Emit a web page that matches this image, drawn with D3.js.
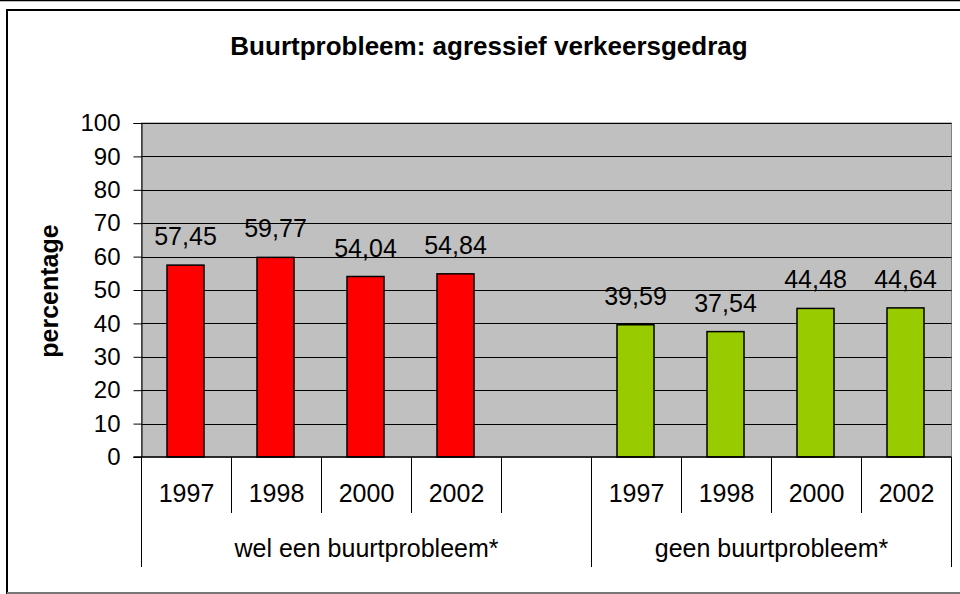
<!DOCTYPE html>
<html>
<head>
<meta charset="utf-8">
<script src="https://cdn.jsdelivr.net/npm/d3@7"></script>
<style>
  body { margin: 0; background: #fff; }
  text { font-family: "Liberation Sans", Arial, sans-serif; fill: #000; }
</style>
</head>
<body>
<div class="chart"></div>
<script>
// chart data
var title = "Buurtprobleem: agressief verkeersgedrag";
var yLabel = "percentage";
var years = ["1997", "1998", "2000", "2002"];
var groups = ["wel een buurtprobleem*", "geen buurtprobleem*"];
var welValues = [57.45, 59.77, 54.04, 54.84];
var geenValues = [39.59, 37.54, 44.48, 44.64];
var yTickValues = [0, 10, 20, 30, 40, 50, 60, 70, 80, 90, 100];
var groupColors = ["#ff0000", "#99cc00"];

var W = 960, H = 594;

var svg = d3.select(".chart")
  .append("svg")
  .attr("width", W)
  .attr("height", H);

// outer frame
svg.append("line")
  .attr("x1", 0).attr("x2", W).attr("y1", 0.5).attr("y2", 0.5)
  .style("stroke", "#000").style("stroke-width", 1.5);
svg.append("path")
  .attr("d", "M965,10 H7 V593 H965")
  .style("fill", "none").style("stroke", "#000").style("stroke-width", 2);
svg.append("line")
  .attr("x1", 7).attr("x2", W).attr("y1", 593).attr("y2", 593)
  .style("stroke", "#777").style("stroke-width", 2);

// slots: 4 years + one empty slot for the first group, 4 years for the second
var slots = [];
years.forEach(function(y, i) { slots.push({g: 0, year: y, value: welValues[i]}); });
slots.push({g: 0, year: "", value: null});
years.forEach(function(y, i) { slots.push({g: 1, year: y, value: geenValues[i]}); });

var plotL = 141.5, plotR = 951.5, plotT = 123, plotB = 457;

var xScale = d3.scaleBand()
  .domain(d3.range(slots.length))
  .range([plotL, plotR])
  .padding(0);

var yScale = d3.scaleLinear()
  .domain([0, 100])
  .range([plotB, plotT]);

// plot area
svg.append("rect")
  .attr("x", plotL).attr("y", plotT)
  .attr("width", plotR - plotL).attr("height", plotB - plotT)
  .style("fill", "#c0c0c0")
  .style("stroke", "#808080")
  .style("stroke-width", 1);

// gridlines
svg.append("g")
  .selectAll("line")
  .data(yTickValues.filter(function(d) { return d > 0; }))
  .enter().append("line")
  .attr("x1", plotL).attr("x2", plotR)
  .attr("y1", function(d) { return Math.round(yScale(d)) + 0.5; })
  .attr("y2", function(d) { return Math.round(yScale(d)) + 0.5; })
  .style("stroke", "#000").style("stroke-width", 1);

// y axis
var yAxis = d3.axisLeft(yScale)
  .tickValues(yTickValues)
  .tickSize(8)
  .tickPadding(13)
  .tickFormat(function(d) { return d; });

var yG = svg.append("g")
  .attr("transform", "translate(" + plotL + ",0)")
  .call(yAxis);
yG.select(".domain").style("stroke", "#000");
yG.selectAll("line").style("stroke", "#000");
yG.selectAll("text")
  .style("font-size", "24px")
  .attr("font-family", null);

// y label
svg.append("text")
  .attr("transform", "translate(58,291) rotate(-90)")
  .attr("text-anchor", "middle")
  .style("font-size", "25px")
  .style("font-weight", "bold")
  .text(yLabel);

// title
svg.append("text")
  .attr("x", 489).attr("y", 55)
  .attr("text-anchor", "middle")
  .style("font-size", "26px")
  .style("font-weight", "bold")
  .text(title);

// bars
var barW = 37;
var bars = svg.append("g")
  .selectAll("rect")
  .data(slots.map(function(d, i) { d.i = i; return d; }).filter(function(d) { return d.value !== null; }))
  .enter();

bars.append("rect")
  .attr("x", function(d) { return xScale(d.i) + (xScale.bandwidth() - barW) / 2 - 1; })
  .attr("y", function(d) { return yScale(d.value); })
  .attr("width", barW)
  .attr("height", function(d) { return plotB - yScale(d.value); })
  .style("fill", function(d) { return groupColors[d.g]; })
  .style("stroke", "#000")
  .style("stroke-width", 1.5);

// value labels
bars.append("text")
  .attr("x", function(d) { return xScale(d.i) + xScale.bandwidth() / 2 - 1; })
  .attr("y", function(d) { return yScale(d.value) - 20; })
  .attr("text-anchor", "middle")
  .style("font-size", "25px")
  .text(function(d) { return d3.format(".2f")(d.value).replace(".", ","); });

// x axis line
svg.append("line")
  .attr("x1", plotL - 8).attr("x2", plotR)
  .attr("y1", plotB).attr("y2", plotB)
  .style("stroke", "#000").style("stroke-width", 1.5);

// category separators
var boundaries = d3.range(slots.length + 1).map(function(i) {
  return i < slots.length ? xScale(i) : plotR;
});
var groupEdges = [0, 5, 9];
svg.append("g")
  .selectAll("line")
  .data(boundaries.map(function(x, i) { return {x: x, i: i}; }))
  .enter().append("line")
  .attr("x1", function(d) { return d.x; })
  .attr("x2", function(d) { return d.x; })
  .attr("y1", plotB)
  .attr("y2", function(d) { return groupEdges.indexOf(d.i) >= 0 ? 567 : 513; })
  .style("stroke", "#000").style("stroke-width", 1);

// year labels
svg.append("g")
  .selectAll("text")
  .data(slots.map(function(d, i) { return {year: d.year, i: i}; }))
  .enter().append("text")
  .attr("x", function(d) { return xScale(d.i) + xScale.bandwidth() / 2; })
  .attr("y", 502)
  .attr("text-anchor", "middle")
  .style("font-size", "25px")
  .text(function(d) { return d.year; });

// group labels
svg.append("g")
  .selectAll("text")
  .data(groups)
  .enter().append("text")
  .attr("x", function(d, i) {
    var a = xScale(groupEdges[i]);
    var b = groupEdges[i + 1] < slots.length ? xScale(groupEdges[i + 1]) : plotR;
    return (a + b) / 2;
  })
  .attr("y", 557)
  .attr("text-anchor", "middle")
  .style("font-size", "25px")
  .text(function(d) { return d; });
</script>
</body>
</html>
